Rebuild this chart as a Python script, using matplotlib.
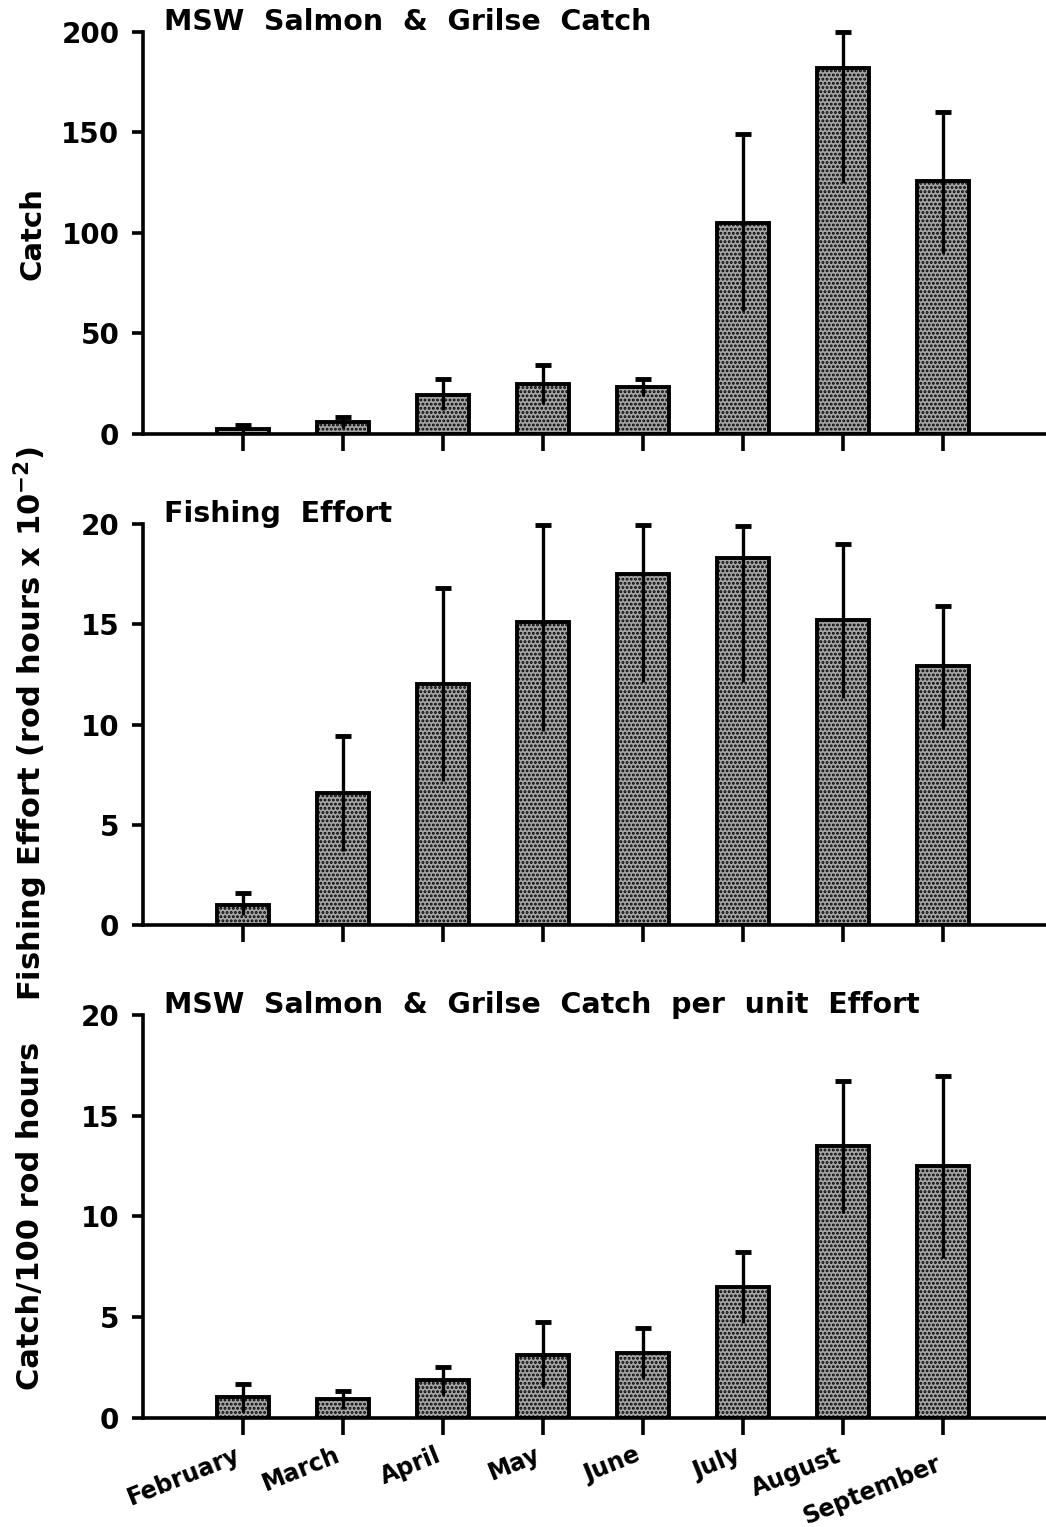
import numpy as np
import matplotlib.pyplot as plt
from matplotlib.transforms import ScaledTranslation

plt.rcParams['font.family'] = ['DejaVu Sans']
plt.rcParams['font.weight'] = 'bold'
plt.rcParams['mathtext.fontset'] = 'dejavusans'
plt.rcParams['mathtext.default'] = 'bf'
plt.rcParams['hatch.linewidth'] = 1.4

months = ['February', 'March', 'April', 'May', 'June', 'July', 'August', 'September']

# MSW salmon & grilse catch (mean, lower and upper ends of the bars)
catch = [2.5, 6.1, 19.3, 25.1, 23.4, 105, 182, 126]
catch_lo = [1.0, 2.8, 11.9, 14.7, 18.8, 61, 125, 90]
catch_hi = [4.5, 8.6, 27.2, 34.5, 27.2, 149, 200, 160]

# fishing effort, rod hours x 10^-2
effort = [1.0, 6.6, 12.0, 15.1, 17.5, 18.3, 15.2, 12.9]
effort_lo = [0.5, 3.7, 7.2, 9.7, 12.1, 12.1, 11.3, 9.8]
effort_hi = [1.6, 9.45, 16.8, 19.95, 19.95, 19.9, 19.0, 15.9]

# catch per 100 rod hours
cpue = [1.04, 0.96, 1.86, 3.15, 3.2, 6.5, 13.5, 12.5]
cpue_lo = [0.3, 0.46, 1.12, 1.53, 1.97, 4.7, 10.15, 7.95]
cpue_hi = [1.7, 1.32, 2.52, 4.75, 4.48, 8.25, 16.7, 16.97]

fig = plt.figure(figsize=(10.46, 15.27), dpi=100)

left, width = 0.1367, 0.8623
ax1 = fig.add_axes([left, 0.7158, width, 0.2633])
ax2 = fig.add_axes([left, 0.3942, width, 0.2626])
ax3 = fig.add_axes([left, 0.0714, width, 0.2639])

x = np.arange(1, len(months) + 1)


def panel(ax, vals, lo, hi, ymax, step, title):
    ax.bar(x, vals, width=0.52, facecolor='#a6a6a6', edgecolor='black',
           linewidth=2.8, hatch='....', zorder=2)
    ax.vlines(x, lo, hi, color='black', linewidth=2.4, zorder=3)
    ax.plot(x, hi, linestyle='none', marker='_', markersize=12,
            markeredgewidth=3.5, color='black', zorder=3, clip_on=False)
    ax.set_xlim(0, 9.02)
    ax.set_ylim(0, ymax)
    ax.set_yticks(np.arange(0, ymax + 1, step))
    ax.set_xticks(x)
    ax.set_xticklabels([])
    for side in ['top', 'right']:
        ax.spines[side].set_visible(False)
    for side in ['left', 'bottom']:
        ax.spines[side].set_linewidth(2.6)
    ax.tick_params(axis='y', direction='out', length=8, width=2.6,
                   labelsize=20, pad=9)
    ax.tick_params(axis='x', direction='out', length=12, width=2.6)
    ax.annotate(title, xy=(0, 1), xycoords='axes fraction',
                xytext=(15, 7), textcoords='offset points',
                fontsize=20.5, fontweight='bold', ha='left', va='center')


panel(ax1, catch, catch_lo, catch_hi, 200, 50, 'MSW  Salmon  &  Grilse  Catch')
panel(ax2, effort, effort_lo, effort_hi, 20, 5, 'Fishing  Effort')
panel(ax3, cpue, cpue_lo, cpue_hi, 20, 5,
      'MSW  Salmon  &  Grilse  Catch  per  unit  Effort')

ax3.set_xticklabels(months, rotation=22, ha='right', va='top',
                    rotation_mode='anchor', fontsize=17, fontweight='bold')
ax3.tick_params(axis='x', pad=6)
shift = ScaledTranslation(-0.08, 0, fig.dpi_scale_trans)
for lab in ax3.get_xticklabels():
    lab.set_transform(lab.get_transform() + shift)
sep = ax3.get_xticklabels()[-1]
sep.set_transform(sep.get_transform() +
                  ScaledTranslation(0, -0.09, fig.dpi_scale_trans))

fig.text(0.031, 0.847, 'Catch', rotation=90, ha='center', va='center',
         fontsize=21, fontweight='bold')
fig.text(0.029, 0.526, r'Fishing Effort (rod hours x 10$^{-2}$)', rotation=90,
         ha='center', va='center', fontsize=22, fontweight='bold')
fig.text(0.029, 0.204, 'Catch/100 rod hours', rotation=90, ha='center',
         va='center', fontsize=22, fontweight='bold')

fig.savefig('out.png', dpi=100, facecolor='white')
